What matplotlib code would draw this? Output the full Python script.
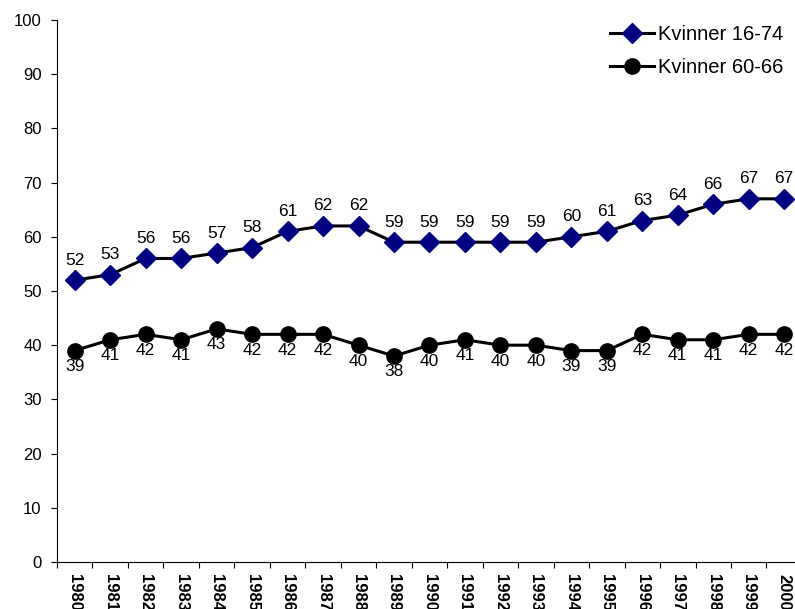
import matplotlib
matplotlib.use('Agg')
from matplotlib import pyplot as plt

plt.rcParams['font.family'] = ['Liberation Sans', 'DejaVu Sans']

years = [str(y) for y in range(1980, 2001)]
kvinner_16_74 = [52, 53, 56, 56, 57, 58, 61, 62, 62, 59, 59, 59, 59, 59, 60, 61, 63, 64, 66, 67, 67]
kvinner_60_66 = [39, 41, 42, 41, 43, 42, 42, 42, 40, 38, 40, 41, 40, 40, 39, 39, 42, 41, 41, 42, 42]

fig = plt.figure(figsize=(7.95, 6.09), dpi=100)
ax = fig.add_axes([0.0717, 0.0772, 0.937, 0.890])

x = list(range(len(years)))
ax.plot(x, kvinner_16_74, color='black', lw=2.2, marker='D', ms=10,
        mfc='#000080', mec='#000080', label='Kvinner 16-74', clip_on=False)
ax.plot(x, kvinner_60_66, color='black', lw=2.2, marker='o', ms=11,
        mfc='black', mec='black', label='Kvinner 60-66', clip_on=False)

for i, v in enumerate(kvinner_16_74):
    ax.annotate(str(v), (i, v), xytext=(0, 9), textcoords='offset points',
                ha='center', va='bottom', fontsize=12.5)
for i, v in enumerate(kvinner_60_66):
    ax.annotate(str(v), (i, v), xytext=(0, -6), textcoords='offset points',
                ha='center', va='top', fontsize=12.5)

ax.set_xlim(-0.5, len(years) - 0.5)
ax.set_ylim(0, 100)
ax.set_yticks(range(0, 101, 10))
ax.tick_params(axis='y', labelsize=12, length=4, pad=7, direction='out')

ax.set_xticks([i - 0.5 for i in range(len(years) + 1)])
ax.set_xticklabels([])
ax.set_xticks(x, minor=True)
ax.set_xticklabels(years, minor=True, rotation=270, fontweight='bold', fontsize=12)
ax.tick_params(axis='x', which='major', length=4, direction='out')
ax.tick_params(axis='x', which='minor', length=0, pad=9)

for s in ['top', 'right']:
    ax.spines[s].set_visible(False)

ax.legend(loc='upper right', bbox_to_anchor=(1.0, 1.025), frameon=False,
          fontsize=14.5, handlelength=2.2, labelspacing=0.7, handletextpad=0.2)

fig.savefig('out.png', dpi=100)
